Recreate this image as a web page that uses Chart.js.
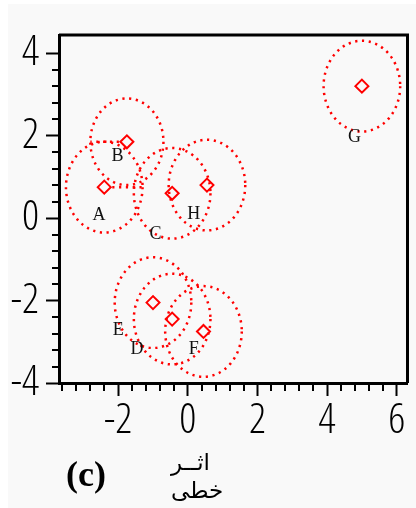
<!DOCTYPE html>
<html><head><meta charset="utf-8">
<script src="https://cdn.jsdelivr.net/npm/chart.js@4"></script>
<style>
html,body{margin:0;padding:0;background:#fff;}
#wrap{position:relative;width:416px;height:508px;overflow:hidden;}
#bg{position:absolute;left:8px;top:4px;right:0;bottom:0;background:#f9f9f9;}
canvas{position:absolute;left:0;top:0;}
.cap{position:absolute;font-family:'Liberation Serif','Times New Roman',serif;font-weight:bold;font-size:36px;line-height:1;left:66px;top:456px;color:#000;}
.ar{position:absolute;font-family:'DejaVu Sans',sans-serif;font-size:23px;line-height:1;direction:rtl;color:#000;}
#ar1{left:171px;top:451px;}
#ar2{left:171px;top:479px;}
</style></head><body>
<div id="wrap"><div id="bg"></div><canvas id="c" width="416" height="508"></canvas>
<div class="cap">(c)</div>
<div class="ar" id="ar1">اثــر</div>
<div class="ar" id="ar2">خطی</div>
</div>
<script>
// ---- data ----
const clusterNames = ['A','B','C','D','E','F','G','H'];
const centerX = [-2.4, -1.75, -0.45, -0.45, -1.0, 0.45, 5.0, 0.55];
const centerY = [0.75, 1.85, 0.6, -2.45, -2.05, -2.75, 3.2, 0.8];
const clusterRadius = [1.1, 1.05, 1.1, 1.1, 1.1, 1.1, 1.1, 1.1];
const labelX = [-2.55, -2.02, -0.93, -1.46, -2.0, 0.17, 4.79, 0.17];
const labelY = [0.08, 1.49, -0.39, -3.17, -2.71, -3.17, 1.96, 0.10];
const spokeAngle = [0, 180, null, null, null, null, null, null];
const xTickLabels = [-2, 0, 2, 4, 6];
const yTickLabels = [-4, -2, 0, 2, 4];
const xRange = [-3.7, 6.31];
const yRange = [-4, 4.44];
const xMinorTicks = [-3.6,-3.2,-2.8,-2.4,-2,-1.6,-1.2,-0.8,-0.4,0,0.4,0.8,1.2,1.6,2,2.4,2.8,3.2,3.6,4,4.4,4.8,5.2,5.6,6];
const yMinorTicks = [-4,-3.6,-3.2,-2.8,-2.4,-2,-1.6,-1.2,-0.8,-0.4,0,0.4,0.8,1.2,1.6,2,2.4,2.8,3.2,3.6,4];

const RED = '#ff0000';
const isMajor = (v, list) => list.some(m => Math.abs(m - v) < 1e-6);

// pick a narrow, light font for the tick labels
function pickTickFont() {
  const c = document.createElement('canvas').getContext('2d');
  const candidates = [["'Open Sans'", 42], ["'Noto Sans'", 42]];
  for (const [fam, size] of candidates) {
    c.font = `300 ${size}px ${fam}`;
    const wNormal = c.measureText('4').width;
    c.font = '10px serif';
    c.font = `condensed 300 ${size}px ${fam}`;
    if (c.font.indexOf('10px') !== -1) continue;
    const wCond = c.measureText('4').width;
    if (wCond < wNormal * 0.88) return { family: fam, size: size, weight: 'condensed 300' };
  }
  return { family: '"DejaVu Sans Condensed", "Liberation Sans", sans-serif', size: 41 };
}
const tickFont = pickTickFont();

const decorPlugin = {
  id: 'decor',
  beforeDatasetsDraw(chart) {
    const ctx = chart.ctx, xs = chart.scales.x, ys = chart.scales.y;
    ctx.save();
    ctx.strokeStyle = RED;
    ctx.lineWidth = 2.5;
    ctx.lineCap = 'butt';
    ctx.setLineDash([2.2, 4.6]);
    for (let i = 0; i < centerX.length; i++) {
      const px = xs.getPixelForValue(centerX[i]);
      const py = ys.getPixelForValue(centerY[i]);
      const rx = Math.abs(xs.getPixelForValue(centerX[i] + clusterRadius[i]) - px);
      const ry = Math.abs(ys.getPixelForValue(centerY[i] + clusterRadius[i]) - py);
      ctx.beginPath();
      ctx.ellipse(px, py, rx, ry, 0, 0, Math.PI * 2);
      ctx.stroke();
      if (spokeAngle[i] !== null) {
        const a = spokeAngle[i] * Math.PI / 180;
        ctx.beginPath();
        ctx.moveTo(px + Math.cos(a) * 8, py);
        ctx.lineTo(px + Math.cos(a) * rx, py - Math.sin(a) * ry);
        ctx.stroke();
      }
    }
    ctx.restore();
  },
  afterDraw(chart) {
    const ctx = chart.ctx, xs = chart.scales.x, ys = chart.scales.y, a = chart.chartArea;
    ctx.save();
    ctx.fillStyle = '#111';
    ctx.font = '18px "Liberation Serif", "Times New Roman", serif';
    ctx.textAlign = 'center';
    ctx.textBaseline = 'middle';
    for (let i = 0; i < clusterNames.length; i++) {
      ctx.fillText(clusterNames[i], xs.getPixelForValue(labelX[i]), ys.getPixelForValue(labelY[i]));
    }
    ctx.strokeStyle = '#000';
    ctx.lineWidth = 2;
    xs.ticks.forEach(t => {
      if (isMajor(t.value, xTickLabels)) return;
      const p = Math.round(xs.getPixelForValue(t.value));
      ctx.beginPath(); ctx.moveTo(p, a.bottom); ctx.lineTo(p, a.bottom + 8); ctx.stroke();
    });
    ys.ticks.forEach(t => {
      if (isMajor(t.value, yTickLabels)) return;
      const p = Math.round(ys.getPixelForValue(t.value));
      ctx.beginPath(); ctx.moveTo(a.left, p); ctx.lineTo(a.left - 7, p); ctx.stroke();
    });
    ctx.lineWidth = 3;
    ctx.beginPath();
    ctx.moveTo(a.left, a.top); ctx.lineTo(a.right, a.top); ctx.lineTo(a.right, a.bottom);
    ctx.stroke();
    ctx.restore();
  }
};

new Chart(document.getElementById('c'), {
  type: 'scatter',
  data: {
    datasets: [{
      data: centerX.map((x, i) => ({ x: x, y: centerY[i] })),
      pointStyle: 'rectRot',
      pointRadius: 6.5,
      borderColor: RED,
      borderWidth: 2,
      backgroundColor: 'rgba(0,0,0,0)'
    }]
  },
  options: {
    responsive: false,
    animation: false,
    devicePixelRatio: 1,
    layout: { padding: { top: 35, right: 4, left: 0, bottom: 0 } },
    plugins: { legend: { display: false }, tooltip: { enabled: false } },
    scales: {
      x: {
        type: 'linear', min: xRange[0], max: xRange[1],
        afterBuildTicks: s => { s.ticks = xMinorTicks.map(v => ({ value: v })); },
        afterFit: s => { s.height = 125; },
        ticks: {
          autoSkip: false, maxRotation: 0, padding: 0, color: '#000', font: tickFont,
          callback: v => isMajor(v, xTickLabels) ? String(Math.round(v)) : ''
        },
        grid: {
          drawOnChartArea: false, drawTicks: true, tickLength: 13, tickWidth: 2,
          tickColor: c => (c.tick && isMajor(c.tick.value, xTickLabels)) ? '#000' : 'rgba(0,0,0,0)'
        },
        border: { display: true, color: '#000', width: 3 }
      },
      y: {
        type: 'linear', min: yRange[0], max: yRange[1],
        afterBuildTicks: s => { s.ticks = yMinorTicks.map(v => ({ value: v })); },
        afterFit: s => { s.width = 59; },
        ticks: {
          autoSkip: false, padding: 7, color: '#000', font: tickFont,
          callback: v => isMajor(v, yTickLabels) ? String(Math.round(v)) : ''
        },
        grid: {
          drawOnChartArea: false, drawTicks: true, tickLength: 13, tickWidth: 2,
          tickColor: c => (c.tick && isMajor(c.tick.value, yTickLabels)) ? '#000' : 'rgba(0,0,0,0)'
        },
        border: { display: true, color: '#000', width: 3 }
      }
    }
  },
  plugins: [decorPlugin]
});
</script>
</body></html>
